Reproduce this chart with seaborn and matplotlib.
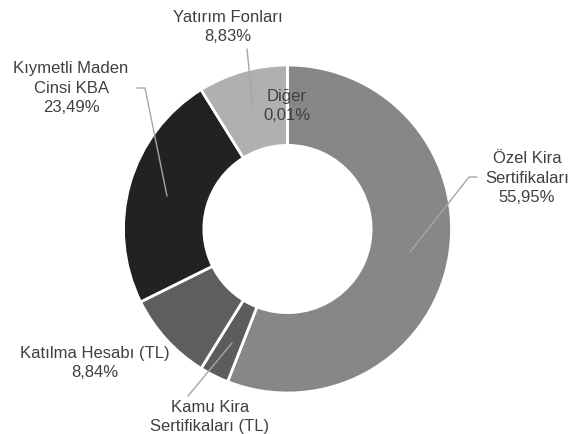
import matplotlib
matplotlib.use("Agg")
import matplotlib.pyplot as plt
import seaborn as sns

categories = ["Özel Kira\nSertifikaları", "Kamu Kira\nSertifikaları (TL)", "Katılma Hesabı (TL)",
              "Kıymetli Maden\nCinsi KBA", "Yatırım Fonları", "Diğer"]
values = [55.95, 2.88, 8.84, 23.49, 8.83, 0.01]
value_labels = ["55,95%", "2,88%", "8,84%", "23,49%", "8,83%", "0,01%"]
show_value = [True, False, True, True, True, True]
colors = ["#878787", "#5c5c5c", "#5e5e5e", "#222222", "#b0b0b0", "#b0b0b0"]

sns.set_theme(style="white")
plt.rcParams["font.family"] = ["Liberation Sans", "DejaVu Sans"]

W, H = 577, 434
fig = plt.figure(figsize=(W / 100, H / 100), dpi=100)
cx, cy, R = 287.5, 229, 164
ax = fig.add_axes([(cx - R) / W, (H - cy - R) / H, 2 * R / W, 2 * R / H])
ax.pie(values, colors=colors, startangle=90, counterclock=False, radius=1,
       wedgeprops=dict(width=0.49, edgecolor="white", linewidth=2))
ax.set_xlim(-1, 1)
ax.set_ylim(-1, 1)
ax.set_aspect("equal")
ax.axis("off")


def p(px, py):
    return ((px - cx) / R, (cy - py) / R)


txt = dict(color="#404040", fontsize=12, ha="center", va="center", linespacing=1.35)
line = dict(color="#a6a6a6", lw=1.0, clip_on=False)

# label positions (pixel coords of text centre) and leader lines
label_pos = [(527, 178), (210, 417), (95, 363), (71, 88), (228, 27), (287, 106)]
leaders = [
    [(477, 177), (469, 177), (410, 252)],
    [(232, 343), (188, 396)],
    None,
    [(137, 88), (145, 88), (167, 196)],
    [(247, 49), (253, 108)],
    None,
]

for cat, vl, sv, pos, ld in zip(categories, value_labels, show_value, label_pos, leaders):
    x, y = p(*pos)
    s = f"{cat}\n{vl}" if sv else cat
    ax.text(x, y, s, clip_on=False, **txt)
    if ld:
        xs = [p(*q)[0] for q in ld]
        ys = [p(*q)[1] for q in ld]
        ax.plot(xs, ys, **line)

fig.savefig("out.png", dpi=100)
